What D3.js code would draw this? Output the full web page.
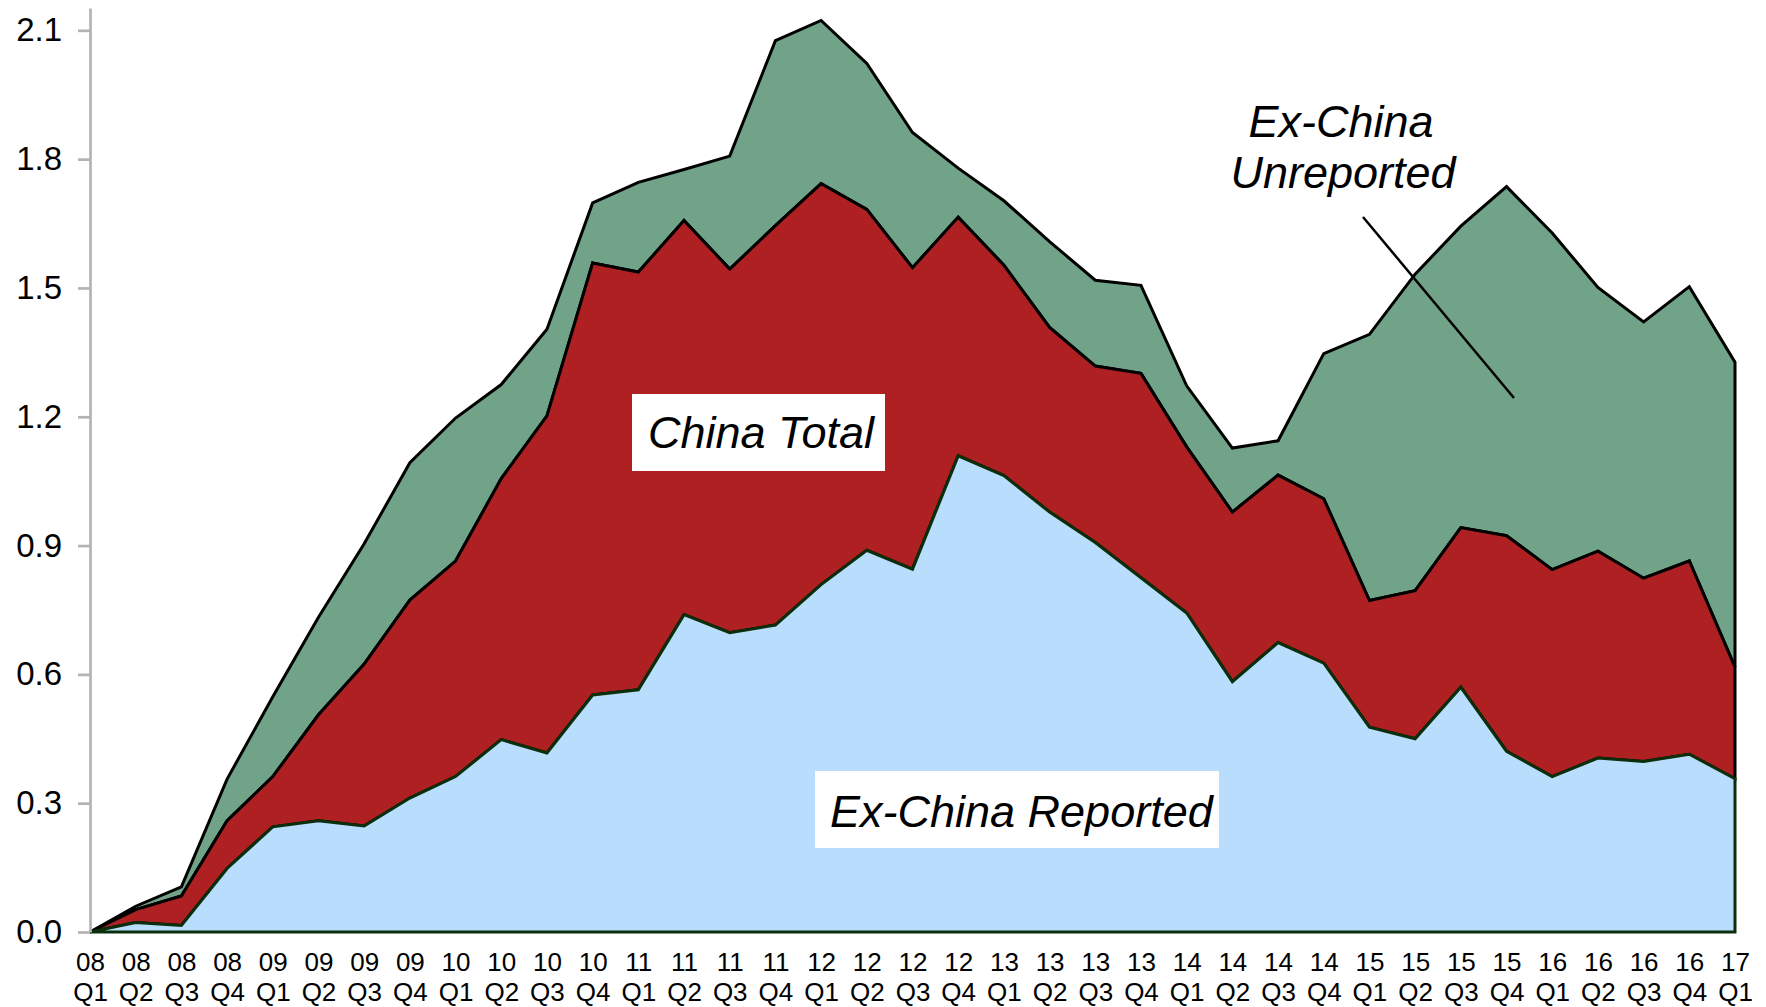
<!DOCTYPE html>
<html>
<head>
<meta charset="utf-8">
<script src="https://cdn.jsdelivr.net/npm/d3@7"></script>
<style>
  html, body { margin: 0; padding: 0; background: #fff; }
  svg { display: block; font-family: "Liberation Sans", Arial, Helvetica, sans-serif; }
</style>
</head>
<body>
<svg id="chart" width="1766" height="1007"></svg>
<script>
// Quarterly categories, 2008 Q1 through 2017 Q1
const years = ["08","08","08","08","09","09","09","09","10","10","10","10",
               "11","11","11","11","12","12","12","12","13","13","13","13",
               "14","14","14","14","15","15","15","15","16","16","16","16","17"];
const quarters = ["Q1","Q2","Q3","Q4","Q1","Q2","Q3","Q4","Q1","Q2","Q3","Q4",
                  "Q1","Q2","Q3","Q4","Q1","Q2","Q3","Q4","Q1","Q2","Q3","Q4",
                  "Q1","Q2","Q3","Q4","Q1","Q2","Q3","Q4","Q1","Q2","Q3","Q4","Q1"];
const categories = years.map((y, i) => y + " " + quarters[i]);

// Stacked series (bottom to top)
const exChinaReported = [0.000,0.022,0.015,0.148,0.245,0.259,0.247,0.312,0.362,0.448,0.417,0.552,
                         0.564,0.739,0.697,0.715,0.809,0.889,0.845,1.109,1.063,0.978,0.907,0.825,
                         0.743,0.583,0.674,0.626,0.477,0.450,0.570,0.421,0.362,0.405,0.397,0.414,0.357];
const chinaTotal      = [0.000,0.030,0.069,0.111,0.117,0.247,0.377,0.461,0.502,0.608,0.785,1.006,
                         0.973,0.918,0.847,0.930,0.934,0.794,0.702,0.556,0.490,0.430,0.411,0.476,
                         0.387,0.395,0.390,0.383,0.295,0.345,0.372,0.502,0.482,0.482,0.427,0.450,0.260];
const exChinaUnreported = [0.000,0.008,0.021,0.097,0.186,0.227,0.280,0.320,0.333,0.219,0.202,0.140,
                         0.209,0.119,0.263,0.431,0.380,0.340,0.315,0.114,0.150,0.200,0.200,0.205,
                         0.142,0.149,0.080,0.338,0.620,0.737,0.702,0.813,0.784,0.614,0.597,0.639,0.710];

const yTicks = [0.0, 0.3, 0.6, 0.9, 1.2, 1.5, 1.8, 2.1];

const seriesKeys = ["reported", "china", "unreported"];
const seriesStyle = {
  reported:   { fill: "#b9ddfd", stroke: "#0b2e0b" },
  china:      { fill: "#af2022", stroke: "#000000" },
  unreported: { fill: "#70a388", stroke: "#000000" }
};

const rows = categories.map((c, i) => ({
  cat: c,
  reported: exChinaReported[i],
  china: chinaTotal[i],
  unreported: exChinaUnreported[i]
}));

const svg = d3.select("#chart");

const x = d3.scalePoint().domain(categories).range([90, 1735]);
const y = d3.scaleLinear().domain([0, 2.152]).range([932, 8]);

const stacked = d3.stack().keys(seriesKeys)(rows);

const area = d3.area()
  .x(d => x(d.data.cat))
  .y0(d => y(d[0]))
  .y1(d => y(d[1]));

// Draw top band first so the lower bands' outlines sit on top
const bands = svg.append("g").attr("class", "bands");
stacked.slice().reverse().forEach(s => {
  bands.append("path")
    .datum(s)
    .attr("d", area)
    .attr("fill", seriesStyle[s.key].fill)
    .attr("stroke", seriesStyle[s.key].stroke)
    .attr("stroke-width", 3)
    .attr("stroke-linejoin", "miter");
});

// Y axis
const yAxis = svg.append("g")
  .attr("transform", "translate(90,0)")
  .call(d3.axisLeft(y).tickValues(yTicks).tickFormat(d3.format(".1f"))
        .tickSize(12).tickSizeOuter(0).tickPadding(16));
yAxis.select(".domain").attr("stroke", "#b3b3b3").attr("stroke-width", 2.7);
yAxis.selectAll(".tick line").attr("stroke", "#b3b3b3").attr("stroke-width", 2.7);
yAxis.selectAll(".tick text").attr("font-size", 33).attr("fill", "#000")
  .attr("font-family", "Liberation Sans, Arial, sans-serif");

// X axis with two-line quarter labels
const xAxis = svg.append("g")
  .attr("transform", "translate(0,932)")
  .call(d3.axisBottom(x).tickSize(0).tickSizeOuter(0));
xAxis.select(".domain").remove();
xAxis.selectAll(".tick text").each(function(d, i) {
  const t = d3.select(this);
  t.text(null).attr("y", 39).attr("dy", null)
    .attr("font-size", 26).attr("fill", "#000")
    .attr("font-family", "Liberation Sans, Arial, sans-serif");
  t.append("tspan").attr("x", 0).text(years[i]);
  t.append("tspan").attr("x", 0).attr("dy", 30).text(quarters[i]);
});

// Series labels
const labels = svg.append("g").attr("font-style", "italic").attr("font-size", 45).attr("fill", "#000");

labels.append("rect").attr("x", 632).attr("y", 394).attr("width", 253).attr("height", 77).attr("fill", "#fff");
labels.append("text").attr("x", 648).attr("y", 448).text("China Total");

labels.append("rect").attr("x", 815).attr("y", 771).attr("width", 404).attr("height", 77).attr("fill", "#fff");
labels.append("text").attr("x", 830).attr("y", 827).text("Ex-China Reported");

labels.append("text").attr("x", 1341).attr("y", 137).attr("text-anchor", "middle").text("Ex-China");
labels.append("text").attr("x", 1343).attr("y", 188).attr("text-anchor", "middle").text("Unreported");

// Leader line into the unreported band
svg.append("line")
  .attr("x1", 1363).attr("y1", 217).attr("x2", 1514).attr("y2", 398)
  .attr("stroke", "#000").attr("stroke-width", 2.5);
</script>
</body>
</html>
